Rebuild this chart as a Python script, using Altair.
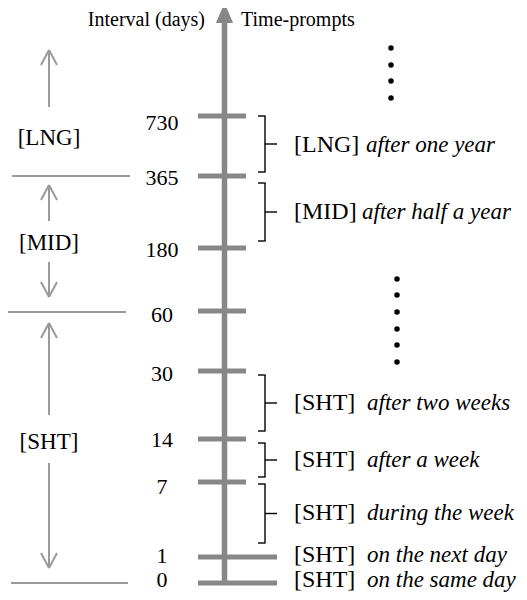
import altair as alt
import pandas as pd

# ---- data ----
tick_labels = ["730", "365", "180", "60", "30", "14", "7", "1", "0"]
tick_pos = [116, 176, 248, 311, 371, 439, 482, 557, 583]
tick_label_pos = [123, 178, 250, 315, 374, 440, 487, 556, 580]
tick_long = [False, False, False, False, False, False, False, True, True]

bracket_top = [116, 183, 375, 443, 484]
bracket_bottom = [172, 241, 431, 477, 543]

prompt_tags = ["[LNG]", "[MID]", "[SHT]", "[SHT]", "[SHT]", "[SHT]", "[SHT]"]
prompt_phrases = ["after one year", "after half a year", "after two weeks",
                  "after a week", "during the week", "on the next day",
                  "on the same day"]
prompt_pos = [145, 212, 403, 460, 513, 555, 580]

group_labels = ["[LNG]", "[MID]", "[SHT]"]
group_label_pos = [138, 243, 442]
separator_pos = [176, 312, 583]
separator_x0 = [12, 8, 11]
separator_x1 = [130, 126, 128]

# left arrows: (start, tip)
arrow_start = [107, 221, 262, 415, 463]
arrow_tip = [50, 185, 297, 323, 568]

dots_top = [48, 65, 81, 98]
dots_bottom = [279, 295, 312, 329, 345, 362]

FONT = "Liberation Serif"
GREY = "#878787"
LGREY = "#9a9a9a"

xs = alt.Scale(domain=[8, 519], nice=False, zero=False)
ys = alt.Scale(domain=[8, 592], nice=False, zero=False, reverse=True)


def enc(**kw):
    out = {}
    for k, v in kw.items():
        if k in ("x", "x2"):
            out[k] = alt.X(v + ":Q", scale=xs, axis=None) if k == "x" else alt.X2(v)
        elif k in ("y", "y2"):
            out[k] = alt.Y(v + ":Q", scale=ys, axis=None) if k == "y" else alt.Y2(v)
        else:
            out[k] = v
    return out


# main axis
axis_df = pd.DataFrame({"x": [224.5], "y": [tick_pos[-1] + 2], "y2": [20]})
axis_layer = alt.Chart(axis_df).mark_rule(color=GREY, strokeWidth=5.5).encode(
    **enc(x="x", y="y", y2="y2"))

head_df = pd.DataFrame({"x": [224.5], "y": [13]})
head_layer = alt.Chart(head_df).mark_point(
    shape="M0,-1L0.86,1L-0.86,1Z", filled=True, color=GREY, opacity=1,
    size=400, strokeWidth=0).encode(**enc(x="x", y="y"))

# ticks
tick_df = pd.DataFrame({
    "x": [198] * len(tick_pos),
    "x2": [277 if l else 246 for l in tick_long],
    "y": tick_pos,
})
tick_layer = alt.Chart(tick_df).mark_rule(color=GREY, strokeWidth=5).encode(
    **enc(x="x", x2="x2", y="y"))

tick_text_df = pd.DataFrame({"t": tick_labels, "x": [162] * len(tick_labels),
                             "y": tick_label_pos})
tick_text = alt.Chart(tick_text_df).mark_text(
    font=FONT, fontSize=22, align="center", baseline="middle", color="black"
).encode(text="t:N", **enc(x="x", y="y"))

# brackets
seg = []
for t, b in zip(bracket_top, bracket_bottom):
    m = (t + b) / 2
    seg += [(258, t, 265.5, t), (265, t, 265, b), (258, b, 265.5, b), (265, m, 277, m)]
br_df = pd.DataFrame(seg, columns=["x", "y", "x2", "y2"])
br_layer = alt.Chart(br_df).mark_rule(color="black", strokeWidth=1.4).encode(
    **enc(x="x", y="y", x2="x2", y2="y2"))

# prompt texts
tag_width = {"[LNG]": 72, "[MID]": 68, "[SHT]": 73}
tag_df = pd.DataFrame({"t": prompt_tags, "x": [294] * len(prompt_tags), "y": prompt_pos})
tag_layer = alt.Chart(tag_df).mark_text(
    font=FONT, fontSize=24, align="left", baseline="middle", color="black"
).encode(text="t:N", **enc(x="x", y="y"))
ph_df = pd.DataFrame({"t": prompt_phrases,
                      "x": [294 + tag_width[g] for g in prompt_tags],
                      "y": prompt_pos})
ph_layer = alt.Chart(ph_df).mark_text(
    font=FONT, fontSize=23, fontStyle="italic", align="left", baseline="middle",
    color="black").encode(text="t:N", **enc(x="x", y="y"))

# left group labels
gl_df = pd.DataFrame({"t": group_labels, "x": [49] * 3, "y": group_label_pos})
gl_layer = alt.Chart(gl_df).mark_text(
    font=FONT, fontSize=23, align="center", baseline="middle", color="black"
).encode(text="t:N", **enc(x="x", y="y"))

sep_df = pd.DataFrame({"x": separator_x0, "x2": separator_x1, "y": separator_pos})
sep_layer = alt.Chart(sep_df).mark_rule(color=LGREY, strokeWidth=2).encode(
    **enc(x="x", x2="x2", y="y"))

aseg = []
for s, t in zip(arrow_start, arrow_tip):
    d = 15 if t < s else -15
    aseg += [(49, s, 49, t), (41, t + d, 49, t), (57, t + d, 49, t)]
ar_df = pd.DataFrame(aseg, columns=["x", "y", "x2", "y2"])
ar_layer = alt.Chart(ar_df).mark_rule(color=LGREY, strokeWidth=2).encode(
    **enc(x="x", y="y", x2="x2", y2="y2"))

# dots
dot_df = pd.DataFrame({"x": [391] * len(dots_top) + [397] * len(dots_bottom),
                       "y": dots_top + dots_bottom})
dot_layer = alt.Chart(dot_df).mark_point(
    shape="circle", filled=True, color="black", opacity=1, size=30, strokeWidth=0
).encode(**enc(x="x", y="y"))

# titles
title_df = pd.DataFrame({"t": ["Interval (days)"], "x": [205], "y": [20]})
title_l = alt.Chart(title_df).mark_text(
    font=FONT, fontSize=20, align="right", baseline="middle", color="black"
).encode(text="t:N", **enc(x="x", y="y"))
title2_df = pd.DataFrame({"t": ["Time-prompts"], "x": [241], "y": [20]})
title_r = alt.Chart(title2_df).mark_text(
    font=FONT, fontSize=20, align="left", baseline="middle", color="black"
).encode(text="t:N", **enc(x="x", y="y"))

chart = alt.layer(
    sep_layer, ar_layer, gl_layer, axis_layer, head_layer, tick_layer, tick_text,
    br_layer, tag_layer, ph_layer, dot_layer, title_l, title_r
).properties(
    width=511, height=584, padding=0, autosize=alt.AutoSizeParams(type="none")
).configure(
    background="white", view=alt.ViewConfig(stroke="transparent", strokeWidth=0)
)

chart.save("out.html", embed_options={"renderer": "svg", "actions": False})
